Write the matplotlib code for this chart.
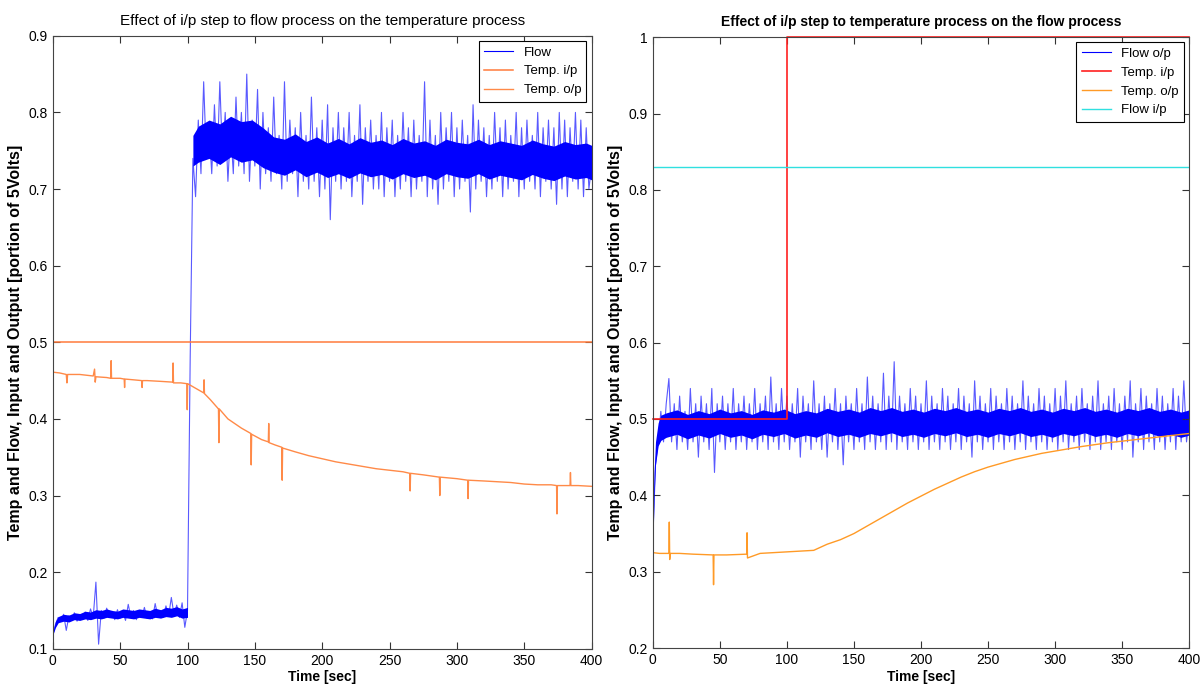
import numpy as np
import matplotlib
matplotlib.use("Agg")
import matplotlib.pyplot as plt

plt.rcParams['font.family'] = ['Liberation Sans Narrow', 'Liberation Sans', 'DejaVu Sans']

# ---------------- left chart: flow step -----------------
flow_left = [
    0.118, 0.132, 0.141, 0.136, 0.145, 0.124, 0.143, 0.138, 0.147, 0.136,
    0.144, 0.139, 0.148, 0.137, 0.152, 0.141, 0.187, 0.106, 0.150, 0.140,
    0.153, 0.142, 0.149, 0.138, 0.151, 0.140, 0.147, 0.137, 0.158, 0.141,
    0.150, 0.138, 0.149, 0.141, 0.154, 0.140, 0.148, 0.139, 0.159, 0.142,
    0.150, 0.141, 0.156, 0.143, 0.167, 0.144, 0.157, 0.141, 0.160, 0.128,
    0.150, 0.480, 0.740,
    0.69, 0.79, 0.72, 0.84, 0.74, 0.78, 0.72, 0.81, 0.73, 0.84,
    0.74, 0.80, 0.71, 0.78, 0.72, 0.82, 0.73, 0.80, 0.72, 0.85,
    0.71, 0.79, 0.73, 0.83, 0.70, 0.80, 0.72, 0.78, 0.71, 0.82,
    0.72, 0.77, 0.70, 0.84, 0.71, 0.79, 0.72, 0.78, 0.69, 0.80,
    0.71, 0.77, 0.70, 0.82, 0.71, 0.78, 0.69, 0.79, 0.70, 0.81,
    0.66, 0.78, 0.71, 0.80, 0.70, 0.78, 0.71, 0.80, 0.69, 0.77,
    0.71, 0.81, 0.68, 0.78, 0.71, 0.79, 0.70, 0.77, 0.70, 0.80,
    0.69, 0.78, 0.71, 0.79, 0.69, 0.77, 0.70, 0.80, 0.71, 0.78,
    0.69, 0.79, 0.70, 0.77, 0.71, 0.84, 0.69, 0.79, 0.70, 0.77,
    0.68, 0.80, 0.70, 0.78, 0.71, 0.80, 0.69, 0.78, 0.70, 0.79,
    0.71, 0.77, 0.67, 0.81, 0.70, 0.79, 0.71, 0.78, 0.69, 0.77,
    0.70, 0.80, 0.71, 0.78, 0.69, 0.79, 0.70, 0.77, 0.71, 0.80,
    0.69, 0.78, 0.70, 0.79, 0.71, 0.77, 0.70, 0.80, 0.69, 0.78,
    0.71, 0.79, 0.70, 0.78, 0.68, 0.80, 0.70, 0.79, 0.69, 0.78,
    0.71, 0.80, 0.70, 0.79, 0.69, 0.78, 0.70, 0.73,
]
time_flow_left = np.linspace(0, 400, len(flow_left))

# dense core of the noisy flow signal (lower / upper edge)
band_left_pre_t = [0, 2, 4, 8, 12, 16, 20, 24, 28, 32, 36, 40, 44, 48, 52, 56,
                   60, 64, 68, 72, 76, 80, 84, 88, 92, 96, 100]
band_left_pre_lo = [0.118, 0.128, 0.134, 0.136, 0.135, 0.138, 0.137, 0.139, 0.138,
                    0.140, 0.139, 0.141, 0.140, 0.139, 0.141, 0.140, 0.139, 0.141,
                    0.140, 0.139, 0.141, 0.140, 0.142, 0.141, 0.143, 0.140, 0.141]
band_left_pre_hi = [0.122, 0.136, 0.142, 0.145, 0.144, 0.147, 0.146, 0.149, 0.148,
                    0.151, 0.150, 0.152, 0.150, 0.149, 0.152, 0.151, 0.150, 0.152,
                    0.151, 0.150, 0.153, 0.151, 0.154, 0.153, 0.155, 0.152, 0.154]
band_left_post_t = [104, 108, 116, 124, 132, 140, 148, 156, 164, 172, 180, 188, 196,
                    204, 212, 220, 228, 236, 244, 252, 260, 268, 276, 284, 292, 300,
                    308, 316, 324, 332, 340, 348, 356, 364, 372, 380, 388, 396, 400]
band_left_post_lo = [0.730, 0.735, 0.740, 0.732, 0.742, 0.735, 0.738, 0.728, 0.722,
                     0.718, 0.725, 0.716, 0.722, 0.715, 0.720, 0.714, 0.721, 0.716,
                     0.719, 0.713, 0.720, 0.715, 0.718, 0.712, 0.720, 0.716, 0.714,
                     0.720, 0.713, 0.718, 0.715, 0.712, 0.719, 0.714, 0.711, 0.717,
                     0.713, 0.715, 0.712]
band_left_post_hi = [0.770, 0.782, 0.790, 0.785, 0.795, 0.788, 0.790, 0.780, 0.768,
                     0.765, 0.772, 0.762, 0.768, 0.760, 0.766, 0.759, 0.767, 0.761,
                     0.764, 0.758, 0.766, 0.760, 0.763, 0.757, 0.765, 0.761, 0.759,
                     0.765, 0.758, 0.763, 0.760, 0.757, 0.764, 0.759, 0.756, 0.762,
                     0.758, 0.760, 0.757]

temp_in_left_t = [0, 400]
temp_in_left = [0.5, 0.5]

temp_out_left_t = [
    0, 5, 10, 10.5, 11, 20, 30, 31, 31.5, 32, 40, 43, 43.3, 43.6, 50, 53, 53.3, 53.6,
    60, 66, 66.3, 66.6, 70, 80, 89, 89.3, 89.6, 95, 99.5, 99.8, 100.1, 105, 110,
    112, 112.3, 112.6, 117, 123, 123.3, 123.6, 130, 135, 140, 147, 147.3, 147.6,
    155, 160, 160.3, 160.6, 165, 170, 170.3, 170.6, 180, 190, 200, 210, 220, 230,
    240, 250, 260, 265, 265.3, 265.6, 275, 287, 287.3, 287.6, 300, 308, 308.3,
    308.6, 320, 330, 340, 350, 360, 370, 374, 374.3, 374.6, 384, 384.3, 384.6,
    390, 400,
]
temp_out_left = [
    0.461, 0.460, 0.458, 0.447, 0.458, 0.458, 0.456, 0.465, 0.448, 0.455, 0.454,
    0.453, 0.476, 0.453, 0.453, 0.452, 0.441, 0.452, 0.451, 0.450, 0.441, 0.450,
    0.450, 0.449, 0.448, 0.473, 0.447, 0.447, 0.446, 0.412, 0.446, 0.441, 0.436,
    0.434, 0.451, 0.433, 0.425, 0.413, 0.369, 0.413, 0.400, 0.394, 0.388, 0.381,
    0.340, 0.380, 0.373, 0.370, 0.394, 0.369, 0.366, 0.363, 0.320, 0.362, 0.357,
    0.352, 0.348, 0.344, 0.341, 0.338, 0.335, 0.333, 0.331, 0.329, 0.306, 0.329,
    0.327, 0.324, 0.300, 0.324, 0.322, 0.320, 0.296, 0.320, 0.319, 0.318, 0.317,
    0.315, 0.314, 0.314, 0.313, 0.276, 0.313, 0.313, 0.330, 0.313, 0.313, 0.312,
]

# ---------------- right chart: temperature step -----------------
flow_right = [
    0.34, 0.44, 0.47, 0.51, 0.47, 0.52, 0.553, 0.47, 0.52, 0.46,
    0.53, 0.47, 0.51, 0.46, 0.54, 0.47, 0.52, 0.45, 0.53, 0.47,
    0.52, 0.46, 0.54, 0.43, 0.52, 0.47, 0.53, 0.46, 0.52, 0.47,
    0.54, 0.46, 0.52, 0.47, 0.53, 0.46, 0.52, 0.47, 0.54, 0.46,
    0.52, 0.47, 0.53, 0.46, 0.555, 0.47, 0.52, 0.46, 0.54, 0.47,
    0.53,
    0.46, 0.52, 0.47, 0.54, 0.45, 0.53, 0.47, 0.52, 0.46, 0.55,
    0.47, 0.52, 0.46, 0.53, 0.45, 0.52, 0.47, 0.54, 0.46, 0.52,
    0.44, 0.53, 0.47, 0.52, 0.46, 0.54, 0.47, 0.52, 0.46, 0.555,
    0.47, 0.53, 0.46, 0.52, 0.47, 0.56, 0.46, 0.53, 0.47, 0.575,
    0.46, 0.53, 0.47, 0.52, 0.46, 0.54, 0.47, 0.53, 0.46, 0.52,
    0.47, 0.55, 0.46, 0.53, 0.47, 0.52, 0.46, 0.54, 0.47, 0.53,
    0.46, 0.52, 0.47, 0.54, 0.46, 0.53, 0.47, 0.52, 0.45, 0.55,
    0.47, 0.53, 0.46, 0.52, 0.47, 0.54, 0.46, 0.53, 0.47, 0.52,
    0.46, 0.54, 0.47, 0.53, 0.46, 0.52, 0.47, 0.55, 0.46, 0.53,
    0.47, 0.52, 0.46, 0.54, 0.47, 0.53, 0.46, 0.52, 0.47, 0.54,
    0.46, 0.53, 0.47, 0.55, 0.46, 0.52, 0.47, 0.53, 0.46, 0.54,
    0.47, 0.52, 0.46, 0.53, 0.47, 0.55, 0.46, 0.52, 0.47, 0.53,
    0.46, 0.54, 0.47, 0.52, 0.46, 0.53, 0.47, 0.55, 0.45, 0.52,
    0.47, 0.54, 0.46, 0.53, 0.47, 0.52, 0.46, 0.54, 0.47, 0.53,
    0.46, 0.52, 0.47, 0.54, 0.46, 0.53, 0.47, 0.55, 0.47, 0.50,
]
time_flow_right = np.linspace(0, 400, len(flow_right))

band_right_t = [0, 1, 2, 4, 6, 10, 18, 26, 34, 42, 50, 58, 66, 74, 82, 90, 98,
                106, 114, 122, 130, 138, 146, 154, 162, 170, 178, 186, 194, 202,
                210, 218, 226, 234, 242, 250, 258, 266, 274, 282, 290, 298, 306,
                314, 322, 330, 338, 346, 354, 362, 370, 378, 386, 394, 400]
band_right_lo = [0.335, 0.400, 0.440, 0.465, 0.472,
                 0.476, 0.480, 0.474, 0.479, 0.475, 0.481, 0.476, 0.479, 0.474, 0.480,
                 0.477, 0.481, 0.475, 0.479, 0.476, 0.482, 0.477, 0.480, 0.476, 0.481,
                 0.478, 0.482, 0.477, 0.480, 0.476, 0.481, 0.478, 0.482, 0.477, 0.480,
                 0.476, 0.481, 0.478, 0.482, 0.477, 0.480, 0.476, 0.481, 0.478, 0.482,
                 0.477, 0.480, 0.476, 0.481, 0.478, 0.482, 0.477, 0.480, 0.476, 0.479]
band_right_hi = [0.345, 0.430, 0.470, 0.495, 0.505,
                 0.508, 0.512, 0.506, 0.511, 0.507, 0.513, 0.508, 0.511, 0.506, 0.512,
                 0.509, 0.513, 0.507, 0.511, 0.508, 0.514, 0.510, 0.513, 0.509, 0.515,
                 0.511, 0.515, 0.510, 0.513, 0.509, 0.514, 0.511, 0.515, 0.510, 0.513,
                 0.509, 0.514, 0.511, 0.515, 0.510, 0.513, 0.509, 0.514, 0.511, 0.515,
                 0.510, 0.513, 0.509, 0.514, 0.511, 0.515, 0.510, 0.513, 0.509, 0.512]

temp_in_right_t = [0, 100, 100, 400]
temp_in_right = [0.5, 0.5, 1.0, 1.0]

temp_out_right_t = [
    0, 5, 12, 12.3, 12.6, 13, 20, 30, 45, 45.3, 45.6, 55, 70, 70.3, 70.6, 80, 90,
    100, 110, 120, 125, 130, 140, 150, 160, 170, 180, 190, 200, 210, 220, 230,
    240, 250, 260, 270, 280, 290, 300, 320, 340, 360, 380, 400,
]
temp_out_right = [
    0.325, 0.324, 0.324, 0.365, 0.316, 0.324, 0.324, 0.323, 0.322, 0.283, 0.322,
    0.322, 0.323, 0.351, 0.318, 0.324, 0.325, 0.326, 0.327, 0.328, 0.332, 0.336,
    0.342, 0.350, 0.360, 0.370, 0.380, 0.390, 0.399, 0.408, 0.416, 0.424, 0.431,
    0.437, 0.442, 0.447, 0.451, 0.455, 0.458, 0.464, 0.469, 0.473, 0.477, 0.481,
]

flow_in_right_t = [0, 400]
flow_in_right = [0.83, 0.83]

fig = plt.figure(figsize=(12, 6.88), dpi=100)
ax1 = fig.add_axes([0.044, 0.057, 0.449, 0.891])
ax2 = fig.add_axes([0.544, 0.058, 0.447, 0.888])

blue = '#0000ff'
ax1.fill_between(band_left_pre_t, band_left_pre_lo, band_left_pre_hi, color=blue, lw=0)
ax1.fill_between(band_left_post_t, band_left_post_lo, band_left_post_hi, color=blue, lw=0)
ax1.plot(time_flow_left, flow_left, color=blue, lw=0.8, alpha=0.65, label='Flow')
ax1.plot(temp_in_left_t, temp_in_left, color='#ff7a3c', lw=1.1, label='Temp. i/p')
ax1.plot(temp_out_left_t, temp_out_left, color='#ff8a48', lw=1.0, label='Temp. o/p')
ax1.set_ylim(0.1, 0.9)
ax1.set_yticks(np.arange(0.1, 0.91, 0.1))
ax1.set_title('Effect of i/p step to flow process on the temperature process',
              fontsize=11, pad=8)

ax2.fill_between(band_right_t, band_right_lo, band_right_hi, color=blue, lw=0)
ax2.plot(time_flow_right, flow_right, color=blue, lw=0.8, alpha=0.65, label='Flow o/p')
ax2.plot(temp_in_right_t, temp_in_right, color='#ff2020', lw=1.2, label='Temp. i/p',
         clip_on=False)
ax2.plot(temp_out_right_t, temp_out_right, color='#ff9a26', lw=1.0, label='Temp. o/p')
ax2.plot(flow_in_right_t, flow_in_right, color='#30e0e0', lw=1.0, label='Flow i/p')
ax2.set_ylim(0.2, 1.0)
ax2.set_yticks(np.arange(0.2, 1.01, 0.1))
ax2.set_title('Effect of i/p step to temperature process on the flow process',
              fontsize=10, fontweight='bold', pad=8)

for ax in (ax1, ax2):
    ax.set_xlim(0, 400)
    ax.set_xticks(range(0, 401, 50))
    ax.yaxis.set_major_formatter(plt.FuncFormatter(lambda v, p: ('%g' % round(v, 2))))
    ax.tick_params(direction='in', top=True, right=True, labelsize=10, length=5,
                   color='#333333')
    for s in ax.spines.values():
        s.set_color('#444444')
    ax.set_xlabel('Time [sec]', fontsize=10, fontweight='bold', labelpad=2)
    ax.set_ylabel('Temp and Flow, Input and Output [portion of 5Volts]',
                  fontsize=11.5, fontweight='bold', labelpad=4)
    leg = ax.legend(loc='upper right', fontsize=9.5, fancybox=False,
                    edgecolor='black', framealpha=1, borderaxespad=0.4,
                    handlelength=2.2)
    leg.get_frame().set_linewidth(0.8)
    for h in leg.get_lines():
        h.set_alpha(1)

fig.savefig('out.png', dpi=100)
